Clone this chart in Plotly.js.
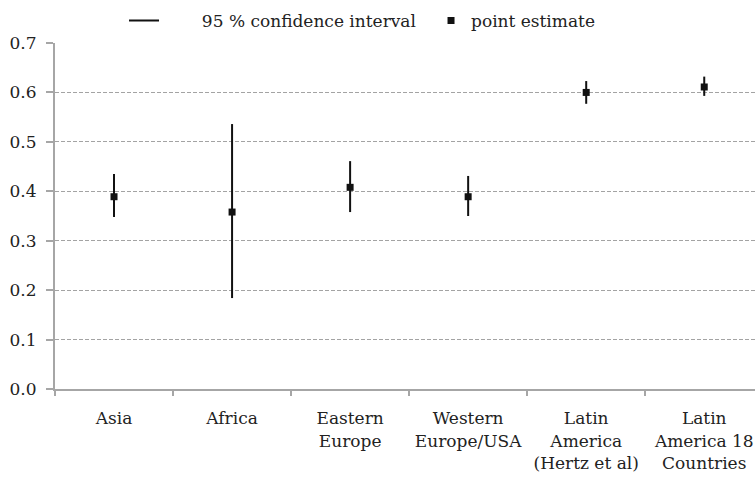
<!DOCTYPE html>
<html>
<head>
<meta charset="utf-8">
<script src="https://cdn.plot.ly/plotly-3.0.1.min.js"></script>
<style>html,body{margin:0;padding:0;background:#fff;overflow:hidden}</style>
</head>
<body>
<div id="chart" style="width:755px;height:485px"></div>
<script>
const categories = ["Asia", "Africa", "Eastern<br>Europe", "Western<br>Europe/USA", "Latin<br>America<br>(Hertz et al)", "Latin<br>America 18<br>Countries"];
const estimates = [0.389, 0.358, 0.408, 0.389, 0.600, 0.611];
const lower = [0.348, 0.184, 0.358, 0.350, 0.577, 0.593];
const upper = [0.435, 0.536, 0.461, 0.431, 0.623, 0.632];
const yTicks = [0, 0.1, 0.2, 0.3, 0.4, 0.5, 0.6, 0.7];
const seriesNames = ["95 % confidence interval", "point estimate"];

const ciX = [], ciY = [];
categories.forEach((c, i) => { ciX.push(c, c, null); ciY.push(lower[i], upper[i], null); });

const FONT = "DejaVu Serif";
const SIZE = 17;
const pad = "\u00a0".repeat(7);
const traces = [
  {type: "scatter", mode: "lines", name: pad + seriesNames[0], x: ciX, y: ciY,
   line: {color: "#111", width: 2}, connectgaps: false, hoverinfo: "skip"},
  {type: "scatter", mode: "markers", name: seriesNames[1], x: categories, y: estimates,
   marker: {symbol: "square", size: 7, color: "#111"}}
];

const layout = {
  width: 755, height: 485,
  margin: {l: 55, r: 0, t: 43, b: 96},
  paper_bgcolor: "#fff", plot_bgcolor: "#fff",
  font: {family: FONT, size: SIZE, color: "#222"},
  showlegend: true,
  legend: {orientation: "h", x: 0.0986, xanchor: "left", y: 1.064, yanchor: "middle",
           entrywidth: 262, entrywidthmode: "pixels",
           font: {family: FONT, size: SIZE, color: "#222"}, bgcolor: "rgba(0,0,0,0)"},
  xaxis: {type: "category", categoryarray: categories, range: [-0.5, 5.43],
          showline: true, linecolor: "#a6a6a6", linewidth: 2,
          ticks: "outside", tickson: "boundaries", ticklen: 5, tickcolor: "#a6a6a6", tickwidth: 2,
          showgrid: false, zeroline: false, ticklabelstandoff: 13,
          tickfont: {family: FONT, size: SIZE, color: "#222"}},
  yaxis: {range: [0, 0.7], tickvals: yTicks, tickformat: ".1f",
          showgrid: true, gridcolor: "#a3a3a3", gridwidth: 1, griddash: "4px,2px",
          showline: true, linecolor: "#a6a6a6", linewidth: 2,
          ticks: "outside", ticklen: 7, tickcolor: "#a6a6a6", tickwidth: 2,
          zeroline: false, ticklabelstandoff: 6,
          tickfont: {family: FONT, size: SIZE, color: "#222"}}
};

Plotly.newPlot("chart", traces, layout, {displayModeBar: false, staticPlot: true});
</script>
</body>
</html>
